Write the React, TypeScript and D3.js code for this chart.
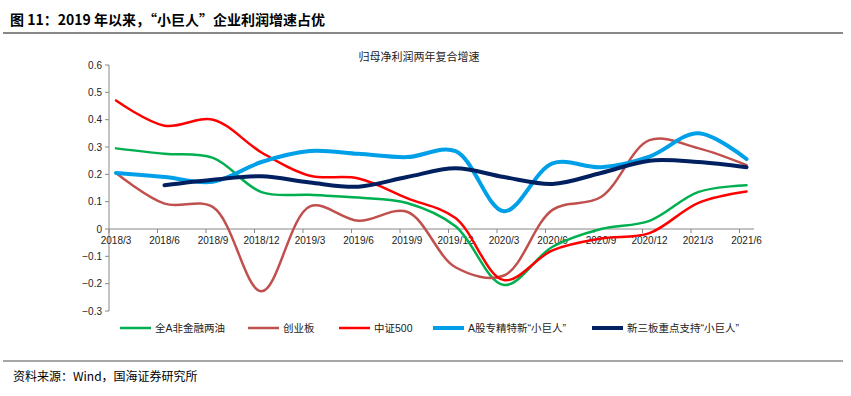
import React from 'react';
import * as d3 from 'd3';

const categories = ['2018/3', '2018/6', '2018/9', '2018/12', '2019/3', '2019/6', '2019/9', '2019/12', '2020/3', '2020/6', '2020/9', '2020/12', '2021/3', '2021/6'];

const allA = [0.295, 0.275, 0.26, 0.135, 0.125, 0.115, 0.095, 0.01, -0.205, -0.065, 0.0, 0.03, 0.135, 0.16];
const chuangye = [0.205, 0.093, 0.08, -0.228, 0.083, 0.03, 0.063, -0.14, -0.17, 0.07, 0.117, 0.325, 0.296, 0.234];
const zz500 = [0.47, 0.378, 0.4, 0.28, 0.195, 0.185, 0.113, 0.04, -0.187, -0.078, -0.035, -0.015, 0.095, 0.137];
const zhuanjing = [0.205, 0.19, 0.173, 0.245, 0.285, 0.275, 0.263, 0.285, 0.065, 0.24, 0.226, 0.265, 0.35, 0.256];
const xinsanban = [null, 0.16, 0.18, 0.193, 0.17, 0.155, 0.19, 0.222, 0.19, 0.165, 0.205, 0.25, 0.245, 0.226];

const yTicks = [-0.3, -0.2, -0.1, 0, 0.1, 0.2, 0.3, 0.4, 0.5, 0.6];

const series = [
  { name: '全A非金融两油', values: allA, color: '#00B050', width: 2.5 },
  { name: '创业板', values: chuangye, color: '#C0504D', width: 2.5 },
  { name: '中证500', values: zz500, color: '#FF0000', width: 2.5 },
  { name: 'A股专精特新“小巨人”', values: zhuanjing, color: '#00A0E9', width: 4 },
  { name: '新三板重点支持“小巨人”', values: xinsanban, color: '#002060', width: 4 },
];

const legendX = [120, 248, 339, 433, 592];

const App: React.FC = () => {
  const W = 851;
  const H = 396;
  const axisLeft = 109;
  const axisRight = 754;

  const x = d3.scalePoint<string>().domain(categories).range([116, 746.5]);
  const y = d3.scaleLinear().domain([-0.3, 0.6]).range([311, 65]);

  const line = d3.line<number | null>()
    .defined(d => d !== null)
    .x((_, i) => x(categories[i]) as number)
    .y(d => y(d as number))
    .curve(d3.curveCatmullRom.alpha(0.5));

  const cjk = '"Liberation Sans", Arial, "Noto Sans CJK SC", sans-serif';

  return (
    <svg width={W} height={H} style={{ position: 'absolute', left: 0, top: 0, background: '#fff' }}>
      {/* header */}
      <text x={10} y={25} fontFamily='"Noto Sans CJK SC", serif' fontWeight="bold" fontSize={14} fill="#000">
        图 11：2019 年以来，“小巨人”企业利润增速占优
      </text>
      <line x1={3} x2={843} y1={33} y2={33} stroke="#888" strokeWidth={2} />

      {/* chart title */}
      <text x={419} y={61} textAnchor="middle" fontFamily={cjk} fontSize={11} fill="#222">
        归母净利润两年复合增速
      </text>

      {/* y axis */}
      <line x1={axisLeft} x2={axisLeft} y1={y(0.6)} y2={y(-0.3)} stroke="#888" strokeWidth={1} />
      {yTicks.map(t => (
        <g key={t}>
          <line x1={axisLeft - 4} x2={axisLeft} y1={y(t)} y2={y(t)} stroke="#888" />
          <text x={102} y={y(t) + 3.5} textAnchor="end" fontFamily={cjk} fontSize={10} fill="#222">
            {d3.format('')(Math.round(t * 10) / 10)}
          </text>
        </g>
      ))}

      {/* x axis */}
      <line x1={axisLeft} x2={axisRight} y1={y(0)} y2={y(0)} stroke="#888" strokeWidth={1} />
      {categories.map(c => (
        <g key={c}>
          <line x1={(x(c) as number) - 7} x2={(x(c) as number) - 7} y1={y(0)} y2={y(0) + 4} stroke="#888" />
          <text x={x(c) as number} y={y(0) + 15} textAnchor="middle" fontFamily={cjk} fontSize={10} fill="#222">
            {c}
          </text>
        </g>
      ))}

      {/* lines */}
      {series.map(s => (
        <path key={s.name} d={line(s.values) || ''} fill="none" stroke={s.color} strokeWidth={s.width}
          strokeLinecap="round" strokeLinejoin="round" />
      ))}

      {/* legend */}
      {series.map((s, i) => (
        <g key={s.name}>
          <line x1={legendX[i]} x2={legendX[i] + 31} y1={328} y2={328} stroke={s.color} strokeWidth={s.width} />
          <text x={legendX[i] + 35} y={332} fontFamily={cjk} fontSize={10.5} fill="#222">{s.name}</text>
        </g>
      ))}

      {/* footer */}
      <line x1={3} x2={843} y1={361} y2={361} stroke="#888" strokeWidth={1.5} />
      <text x={13} y={381} fontFamily='"Noto Sans CJK SC", serif' fontSize={12} fill="#000">
        资料来源：Wind，国海证券研究所
      </text>
    </svg>
  );
};

export default App;
